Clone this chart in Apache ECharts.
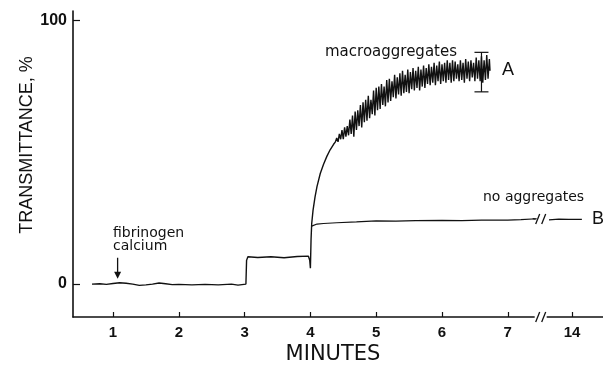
<!DOCTYPE html>
<html><head><meta charset="utf-8">
<script src="https://cdn.jsdelivr.net/npm/echarts@6/dist/echarts.min.js"></script>
<style>html,body{margin:0;padding:0;background:#fff}#c{width:603px;height:366px}</style>
</head><body><div id="c"></div>
<script>
// ---- data (minutes, transmittance %) ----
const xTickMinutes = [1, 2, 3, 4, 5, 6, 7, 14];
const yTickValues = [0, 100];
const breakOffset = 6.024;           // minutes after the axis break are drawn at (t - breakOffset)
const breakAt = 7.5;

// curve A: baseline, step at 3 min, dip and rise at 4 min
const curveABase = [
  [0.68, 0], [0.8, 0.1], [0.9, -0.1], [1.0, 0.2], [1.1, 0.5], [1.2, 0.3], [1.3, 0], [1.4, -0.5],
  [1.5, -0.3], [1.6, 0], [1.7, 0.4], [1.8, 0.1], [1.9, -0.2], [2.0, -0.1], [2.2, -0.3], [2.4, -0.1],
  [2.6, -0.3], [2.8, 0], [2.9, -0.4], [3.02, 0], [3.03, 9], [3.05, 10.4], [3.2, 10.1], [3.4, 10.4],
  [3.6, 10.0], [3.8, 10.5], [3.97, 10.6], [3.99, 9], [4.0, 6], [4.01, 17], [4.02, 23], [4.04, 28],
  [4.07, 33], [4.1, 37], [4.15, 42], [4.2, 45.5], [4.25, 48.5], [4.3, 51], [4.35, 53], [4.38, 54]
];
const curveANoisy = [
  [4.40, 55.5], [4.42, 54], [4.44, 57], [4.46, 55], [4.48, 58.5], [4.50, 55], [4.52, 59.5], [4.54, 56],
  [4.56, 60], [4.58, 56.5], [4.60, 62.5], [4.62, 57], [4.64, 64], [4.66, 56], [4.68, 65.5], [4.70, 58.5],
  [4.72, 66], [4.74, 60], [4.76, 68], [4.78, 59.5], [4.80, 69], [4.82, 61.5], [4.84, 70], [4.86, 62],
  [4.88, 71.5], [4.90, 63], [4.92, 70], [4.94, 64.5], [4.96, 73.5], [4.98, 64], [5.00, 74.5], [5.02, 66],
  [5.04, 75], [5.06, 66.5], [5.08, 76], [5.10, 68], [5.12, 75], [5.14, 67.5], [5.16, 77.5], [5.18, 69],
  [5.20, 78], [5.22, 69.5], [5.24, 77], [5.26, 71], [5.28, 79.5], [5.30, 70.5], [5.32, 78.5], [5.34, 72],
  [5.36, 80], [5.38, 71.5], [5.40, 81], [5.42, 72.5], [5.44, 79.5], [5.46, 73], [5.48, 81.5], [5.50, 72.5],
  [5.52, 80.5], [5.54, 74], [5.56, 82], [5.58, 73.5], [5.60, 81], [5.62, 74.5], [5.64, 82.5], [5.66, 73.5],
  [5.68, 81.5], [5.70, 75], [5.72, 83], [5.74, 74.5], [5.76, 82], [5.78, 76], [5.80, 83.5], [5.82, 75.5],
  [5.84, 82.5], [5.86, 76.5], [5.88, 84], [5.90, 75.5], [5.92, 83], [5.94, 77], [5.96, 84.5], [5.98, 76],
  [6.00, 83.5], [6.02, 77], [6.04, 84], [6.06, 76.5], [6.08, 85], [6.10, 77.5], [6.12, 84], [6.14, 76.5],
  [6.16, 85], [6.18, 77], [6.20, 84.5], [6.22, 78], [6.24, 83.5], [6.26, 77], [6.28, 85], [6.30, 77.5],
  [6.32, 84], [6.34, 76.5], [6.36, 85.5], [6.38, 78], [6.40, 84.5], [6.42, 77], [6.44, 85], [6.46, 78.5],
  [6.48, 84], [6.50, 77], [6.52, 86], [6.54, 78], [6.56, 85], [6.58, 77], [6.60, 86.5], [6.62, 76.5],
  [6.64, 85], [6.66, 77.5], [6.68, 87], [6.70, 78], [6.72, 85.5], [6.73, 81]
];
// curve B: no aggregates
const curveBBefore = [
  [4.02, 22], [4.05, 22.4], [4.1, 22.8], [4.2, 23], [4.4, 23.3], [4.7, 23.6], [5.0, 24], [5.3, 23.9],
  [5.6, 24.1], [6.0, 24.2], [6.3, 24.1], [6.6, 24.3], [7.0, 24.3], [7.2, 24.5], [7.44, 24.8]
];
const curveBAfter = [[13.65, 24.4], [13.8, 24.7], [13.95, 24.6], [14.15, 24.6]];
const errorBarA = [[6.6, 73, 88]];
const arrowAt = [[1.07, 10, 2]];

// ---- chart ----
const toPos = t => t > breakAt ? t - breakOffset : t;
const tickPos = xTickMinutes.map(toPos);
const chart = echarts.init(document.getElementById('c'), null, {renderer: 'canvas'});
const ink = '#111';
const lineStyle = {color: ink, width: 1.2};

chart.setOption({
  animation: false,
  grid: {left: 73, right: 0, top: 11, bottom: 49, containLabel: false},
  xAxis: {
    type: 'value', min: 0.392, max: 8.447,
    axisLine: {show: true, onZero: false, lineStyle: {color: ink, width: 1.6}},
    axisTick: {show: true, inside: true, length: 5, customValues: tickPos, lineStyle: {color: ink, width: 1.2}},
    axisLabel: {
      customValues: tickPos, margin: 8, color: ink, fontFamily: 'Liberation Sans', fontWeight: 'bold', fontSize: 15,
      formatter: v => String(v > breakAt ? Math.round(v + breakOffset) : Math.round(v))
    },
    splitLine: {show: false}
  },
  yAxis: {
    type: 'value', min: -12.5, max: 103.7,
    axisLine: {show: true, onZero: false, lineStyle: {color: ink, width: 1.6}},
    axisTick: {show: true, inside: true, length: 7, customValues: yTickValues, lineStyle: {color: ink, width: 1.2}},
    axisLabel: {customValues: yTickValues, margin: 6, color: ink, fontFamily: 'Liberation Sans', fontWeight: 'bold', fontSize: 16},
    splitLine: {show: false}
  },
  series: [
    {type: 'line', data: curveABase.concat(curveANoisy), showSymbol: false, lineStyle: {color: ink, width: 1.4}, z: 3},
    {type: 'line', data: curveBBefore, showSymbol: false, lineStyle: lineStyle, z: 3},
    {type: 'line', data: curveBAfter.map(p => [toPos(p[0]), p[1]]), showSymbol: false, lineStyle: lineStyle, z: 3},
    { // axis-break marks
      type: 'custom', z: 5, clip: false,
      data: [[breakAt, -12.5, 1], [7.5, 24.7, 0]],
      renderItem: (params, api) => {
        const p = api.coord([api.value(0), api.value(1)]);
        const kids = [];
        if (api.value(2)) kids.push({type: 'rect', shape: {x: p[0] - 6, y: p[1] - 3, width: 12, height: 6}, style: {fill: '#fff'}});
        kids.push({type: 'line', shape: {x1: p[0] - 5, y1: p[1] + 5, x2: p[0] - 1, y2: p[1] - 5}, style: {stroke: ink, lineWidth: 1.3}});
        kids.push({type: 'line', shape: {x1: p[0] + 1, y1: p[1] + 5, x2: p[0] + 5, y2: p[1] - 5}, style: {stroke: ink, lineWidth: 1.3}});
        if (!api.value(2)) {
          kids.push({type: 'line', shape: {x1: p[0] - 8, y1: p[1] - 0.5, x2: p[0] - 5, y2: p[1]}, style: {stroke: ink, lineWidth: 1.2}});
        }
        return {type: 'group', children: kids};
      }
    },
    { // error bar on A
      type: 'custom', z: 4, clip: false, data: errorBarA,
      renderItem: (params, api) => {
        const lo = api.coord([api.value(0), api.value(1)]);
        const hi = api.coord([api.value(0), api.value(2)]);
        const s = {stroke: ink, lineWidth: 1.2};
        return {type: 'group', children: [
          {type: 'line', shape: {x1: lo[0], y1: lo[1], x2: hi[0], y2: hi[1]}, style: s},
          {type: 'line', shape: {x1: lo[0] - 7, y1: lo[1], x2: lo[0] + 7, y2: lo[1]}, style: s},
          {type: 'line', shape: {x1: hi[0] - 7, y1: hi[1], x2: hi[0] + 7, y2: hi[1]}, style: s}
        ]};
      }
    },
    { // arrow marking fibrinogen/calcium addition
      type: 'custom', z: 4, clip: false, data: arrowAt,
      renderItem: (params, api) => {
        const a = api.coord([api.value(0), api.value(1)]);
        const b = api.coord([api.value(0), api.value(2)]);
        return {type: 'group', children: [
          {type: 'line', shape: {x1: a[0], y1: a[1], x2: b[0], y2: b[1] - 5}, style: {stroke: ink, lineWidth: 1.3}},
          {type: 'polygon', shape: {points: [[b[0] - 3.5, b[1] - 7], [b[0] + 3.5, b[1] - 7], [b[0], b[1]]]}, style: {fill: ink}}
        ]};
      }
    }
  ],
  graphic: [
    {type: 'text', x: 27, y: 145, rotation: Math.PI / 2, style: {text: 'TRANSMITTANCE, %', fill: ink, font: '18px "Liberation Sans"', align: 'center', verticalAlign: 'middle'}},
    {type: 'text', x: 333, y: 355, style: {text: 'MINUTES', fill: ink, font: '21px "DejaVu Sans"', align: 'center', verticalAlign: 'middle'}},
    {type: 'text', x: 325, y: 52, style: {text: 'macroaggregates', fill: ink, font: '15px "DejaVu Sans"', align: 'left', verticalAlign: 'middle'}},
    {type: 'text', x: 483, y: 197, style: {text: 'no aggregates', fill: ink, font: '14px "DejaVu Sans"', align: 'left', verticalAlign: 'middle'}},
    {type: 'text', x: 113, y: 240, style: {text: 'fibrinogen\ncalcium', fill: ink, font: '14px "DejaVu Sans"', lineHeight: 13, align: 'left', verticalAlign: 'middle'}},
    {type: 'text', x: 502, y: 70, style: {text: 'A', fill: ink, font: '18px "Liberation Sans"', align: 'left', verticalAlign: 'middle'}},
    {type: 'text', x: 592, y: 219, style: {text: 'B', fill: ink, font: '18px "Liberation Sans"', align: 'left', verticalAlign: 'middle'}}
  ]
});
</script></body></html>
